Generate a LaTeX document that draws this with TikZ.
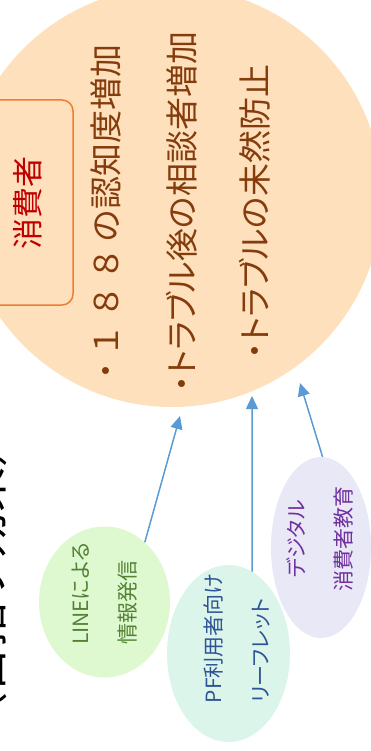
\documentclass[tikz,border=0pt]{standalone}
\usepackage{fontspec}
\setmainfont{Noto Sans CJK JP}
\newfontfamily\pjp{Noto Sans CJK JP}[RawFeature=+palt]
\newfontfamily\fjp{Noto Sans CJK JP}
\usetikzlibrary{shapes.geometric,arrows.meta}
\definecolor{peach}{RGB}{254,224,188}
\definecolor{brownt}{RGB}{132,60,12}
\definecolor{orangeb}{RGB}{237,125,49}
\definecolor{redt}{RGB}{192,0,0}
\definecolor{greenf}{RGB}{222,248,208}
\definecolor{greent}{RGB}{84,130,53}
\definecolor{mintf}{RGB}{220,245,234}
\definecolor{bluet}{RGB}{47,85,151}
\definecolor{lavf}{RGB}{232,232,246}
\definecolor{purplet}{RGB}{112,48,160}
\definecolor{arrowc}{RGB}{91,155,213}
\begin{document}
\begin{tikzpicture}[x=1pt,y=-1pt,
  bigtext/.style={rotate=90, text=brownt, font=\pjp\fontsize{33}{33}\selectfont, inner sep=0},
  bubble/.style={ellipse, draw=none, inner sep=0},
  bubtext/.style={rotate=90, font=\pjp\fontsize{21}{47}\selectfont, inner sep=0},
  link/.style={draw=arrowc, line width=1.5pt, -{Triangle[length=13pt,width=12pt]}}]
\useasboundingbox (0,0) rectangle (371,751);
\clip (0,0) rectangle (371,751);
\node[circle, fill=peach, minimum size=420pt, inner sep=0] (circ) at (172,197) {};
\node[rotate=90, draw=orangeb, line width=1.5pt, rounded corners=11pt, minimum width=205pt, minimum height=90pt, inner sep=0, text=redt, font=\fontsize{31}{31}\selectfont] (cons) at (28,202.5) {消費者};
\node[bigtext] (l1) at (106,212) {・{\fjp\,１\,８\,８\,}の認知度増加};
\node[bigtext] (l2) at (182,212) {・トラブル後の相談者増加};
\node[bigtext] (l3) at (255,212) {・トラブルの未然防止};
\node[rotate=90, font=\fontsize{45}{45}\selectfont, inner sep=0, anchor=base] (title) at (2,580) {（目指す効果）};
\node[bubble, fill=greenf, minimum width=131pt, minimum height=151pt] (g) at (104.5,602) {};
\node[bubtext, text=greent, align=left] (gt) at (105,594) {LINEによる\\情報発信};
\node[bubble, fill=mintf, minimum width=123pt, minimum height=177pt] (m) at (228.5,653.5) {};
\node[bubtext, text=bluet, align=left] (mt) at (236.5,638.5) {PF利用者向け\\リーフレット};
\node[bubble, fill=lavf, minimum width=100pt, minimum height=181pt] (v) at (321,547.5) {};
\node[bubtext, text=purplet, align=center] (vt) at (320,539) {デジタル\\消費者教育};
\coordinate (t1) at (180,416);
\coordinate (t2) at (252,396);
\coordinate (t3) at (300,383);
\draw[link] (g.56) -- (t1);
\draw[link] (m.74) -- (t2);
\draw[link] (v.89) -- (t3);
\end{tikzpicture}
\end{document}
